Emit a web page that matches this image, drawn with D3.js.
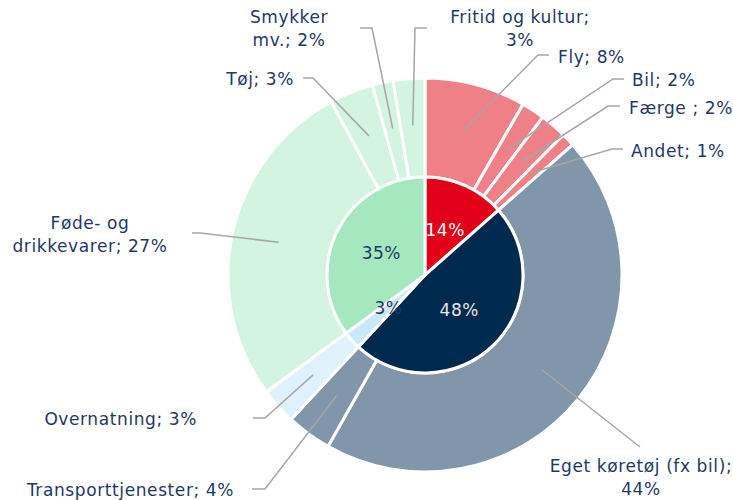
<!DOCTYPE html>
<html>
<head>
<meta charset="utf-8">
<script src="https://cdn.jsdelivr.net/npm/d3@7"></script>
<style>
body { margin: 0; background: #fff; }
text { font-family: "DejaVu Sans", sans-serif; }
</style>
</head>
<body>
<div id="chart"></div>
<script>
// inner ring: main groups
var groupNames = ["Transport", "Eget transport", "Overnatning", "Varer"];
var groupValues = [13.5, 48.4, 3.0, 35.1];
var groupLabels = ["14%", "48%", "3%", "35%"];

// outer ring: subcategories
var subNames = ["Fly", "Bil", "Færge ", "Andet", "Eget køretøj (fx bil)", "Transporttjenester",
  "Overnatning", "Føde- og drikkevarer", "Tøj", "Smykker mv.", "Fritid og kultur"];
var subValues = [8.3, 1.9, 2.2, 1.1, 44.7, 3.7, 3.0, 27.2, 3.6, 1.7, 2.6];
var subGroup = [0, 0, 0, 0, 1, 1, 2, 3, 3, 3, 3];
var subLabels = [["Fly; 8%"], ["Bil; 2%"], ["Færge ; 2%"], ["Andet; 1%"],
  ["Eget køretøj (fx bil);", "44%"], ["Transporttjenester; 4%"], ["Overnatning; 3%"],
  ["Føde- og", "drikkevarer; 27%"], ["Tøj; 3%"], ["Smykker", "mv.; 2%"], ["Fritid og kultur;", "3%"]];

var innerColors = ["#E30019", "#002A4D", "#C9E9FB", "#A5E8C0"];
var outerColors = ["#F08088", "#8196AA", "#DFF2FC", "#D2F4E0"];
var innerText = ["#ffffff", "#E6E6E6", "#1F3864", "#1F3864"];

// label layout: [elbowX, elbowY, endX, endY, textX, textY, anchor]
var labelPos = [
  [538, 55, 549, 55, 558, 57, "start"],
  [613, 79, 624, 79, 632, 80, "start"],
  [608, 106, 620, 106, 629, 108, "start"],
  [612, 149, 623, 149, 631, 151, "start"],
  [640, 447, 640, 447, 641, 466, "middle"],
  [265, 489, 252, 489, 234, 490, "end"],
  [265, 418, 253, 418, 197, 419, "end"],
  [200, 233, 192, 233, 90, 223, "middle"],
  [313, 78, 303, 78, 294, 79, "end"],
  [372, 28, 360, 28, 289, 17, "middle"],
  [415, 28, 427, 28, 520, 17, "middle"]
];

function init(){
  var w = 733, h = 500;
  var cx = 425, cy = 275;
  var r0 = 98, r1 = 197;

  var svg = d3.select("#chart").append("svg")
    .attr("width", w).attr("height", h);
  var g = svg.append("g").attr("transform", "translate(" + cx + "," + cy + ")");

  var pie = d3.pie().sort(null);
  var innerArcs = pie(groupValues);
  var outerArcs = pie(subValues);

  var innerArc = d3.arc().innerRadius(0).outerRadius(r0);
  var outerArc = d3.arc().innerRadius(r0).outerRadius(r1);

  g.selectAll("path.outer")
    .data(outerArcs)
    .enter().append("path")
    .attr("class", "outer")
    .attr("d", outerArc)
    .attr("fill", function(d, i){ return outerColors[subGroup[i]]; })
    .attr("stroke", "#fff")
    .attr("stroke-width", 3);

  g.selectAll("path.inner")
    .data(innerArcs)
    .enter().append("path")
    .attr("class", "inner")
    .attr("d", innerArc)
    .attr("fill", function(d, i){ return innerColors[i]; })
    .attr("stroke", "#fff")
    .attr("stroke-width", 3);

  g.selectAll("text.inner")
    .data(innerArcs)
    .enter().append("text")
    .attr("class", "inner")
    .attr("transform", function(d){ return "translate(" + innerArc.centroid(d) + ")"; })
    .attr("text-anchor", "middle")
    .attr("dy", "0.35em")
    .attr("font-size", 17)
    .attr("letter-spacing", 0.5)
    .attr("fill", function(d, i){ return innerText[i]; })
    .text(function(d, i){ return groupLabels[i]; });

  // leader lines
  var lr = 150;
  svg.selectAll("polyline")
    .data(outerArcs)
    .enter().append("polyline")
    .attr("points", function(d, i){
      var a = (d.startAngle + d.endAngle) / 2;
      var p = labelPos[i];
      var sx = cx + lr * Math.sin(a), sy = cy - lr * Math.cos(a);
      return [[sx, sy], [p[0], p[1]], [p[2], p[3]]].join(" ");
    })
    .attr("fill", "none")
    .attr("stroke", "#A6A6A6")
    .attr("stroke-width", 1.5);

  var lab = svg.selectAll("text.outer")
    .data(outerArcs)
    .enter().append("text")
    .attr("class", "outer")
    .attr("x", function(d, i){ return labelPos[i][4]; })
    .attr("y", function(d, i){ return labelPos[i][5]; })
    .attr("text-anchor", function(d, i){ return labelPos[i][6]; })
    .attr("font-size", 17)
    .attr("letter-spacing", 0.6)
    .attr("fill", "#1F3864");

  lab.each(function(d, i){
    var t = d3.select(this);
    subLabels[i].forEach(function(line, k){
      t.append("tspan")
        .attr("x", labelPos[i][4])
        .attr("dy", k == 0 ? "0.35em" : 23)
        .text(line);
    });
  });
}

window.onload = init;
</script>
</body>
</html>
